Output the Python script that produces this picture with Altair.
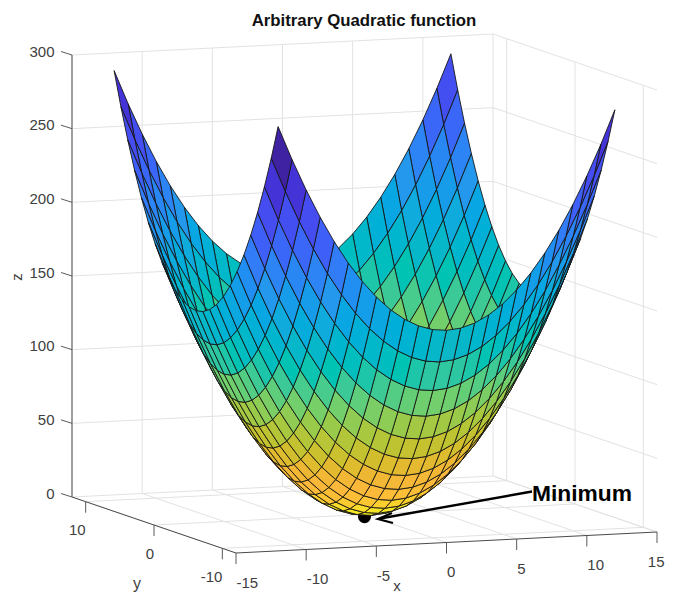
import altair as alt
import pandas as pd

TITLE = "Arbitrary Quadratic function"
X_TICKS = [-15, -10, -5, 0, 5, 10, 15]
Y_TICKS = [-10, 0, 10]
Z_TICKS = [0, 50, 100, 150, 200, 250, 300]
X_RANGE = [-15, 15]
Y_RANGE = [-12, 12]
Z_RANGE = [0, 300]
GRID_AXIS = [-12, -11, -10, -9, -8, -7, -6, -5, -4, -3, -2, -1, 0,
             1, 2, 3, 4, 5, 6, 7, 8, 9, 10, 11, 12]
# surface heights, quarter of the mesh (x and y from -12 to 0); the bowl is mirror-symmetric
Z_QUARTER = [
    [288, 265, 244, 225, 208, 193, 180, 169, 160, 153, 148, 145, 144],
    [265, 242, 221, 202, 185, 170, 157, 146, 137, 130, 125, 122, 121],
    [244, 221, 200, 181, 164, 149, 136, 125, 116, 109, 104, 101, 100],
    [225, 202, 181, 162, 145, 130, 117, 106, 97, 90, 85, 82, 81],
    [208, 185, 164, 145, 128, 113, 100, 89, 80, 73, 68, 65, 64],
    [193, 170, 149, 130, 113, 98, 85, 74, 65, 58, 53, 50, 49],
    [180, 157, 136, 117, 100, 85, 72, 61, 52, 45, 40, 37, 36],
    [169, 146, 125, 106, 89, 74, 61, 50, 41, 34, 29, 26, 25],
    [160, 137, 116, 97, 80, 65, 52, 41, 32, 25, 20, 17, 16],
    [153, 130, 109, 90, 73, 58, 45, 34, 25, 18, 13, 10, 9],
    [148, 125, 104, 85, 68, 53, 40, 29, 20, 13, 8, 5, 4],
    [145, 122, 101, 82, 65, 50, 37, 26, 17, 10, 5, 2, 1],
    [144, 121, 100, 81, 64, 49, 36, 25, 16, 9, 4, 1, 0],
]
COLOR_STOPS = [0, 10, 20, 30, 45, 60, 80, 100, 121, 144, 165, 185, 205, 225, 245, 265, 288]
COLOR_VALUES = ["#f9fb15", "#f6e426", "#fdc532", "#fdb83b", "#eeb733", "#cdbf2c", "#a8c840", "#72cf6c",
                "#30c8a0", "#0cb8c8", "#14aade", "#2398ec", "#3480f6", "#3f60f8", "#454cf0", "#4434d8", "#3f22a2"]
MIN_POINT = [0, 0, -1.5]

half = [r + r[-2::-1] for r in Z_QUARTER]
Z = half + half[-2::-1]

PAGE = 8
W, H = 657, 586


def project(x, y, z):
    """Orthographic view of the axes box."""
    sx = 236 + (x + 15) * 421 / 30 - (y + 12) * 164 / 24
    sy = 553 - (x + 15) * 21 / 30 - (y + 12) * 56 / 24 - z * 442 / 300
    return sx, sy


def depth(x, y, z):
    return -0.36 * x / 30 - 0.93 * y / 24 + 0.134 * z / 300


# ---- surface
cells = []
n = len(GRID_AXIS)
for j in range(n - 1):
    for i in range(n - 1):
        corners = [(i, j), (i + 1, j), (i + 1, j + 1), (i, j + 1), (i, j)]
        pts = [(GRID_AXIS[a], GRID_AXIS[b], Z[b][a]) for a, b in corners]
        d = sum(depth(*p) for p in pts[:4]) / 4
        cells.append((d, Z[j][i], pts))
cells.sort(key=lambda c: c[0])
rows = []
for cid, (_, c, pts) in enumerate(cells):
    for k, p in enumerate(pts):
        sx, sy = project(*p)
        rows.append({"sx": sx, "sy": sy, "cell": cid, "k": k, "c": c})
surface_df = pd.DataFrame(rows)

xs = alt.X("sx:Q", scale=alt.Scale(domain=[PAGE, PAGE + W], nice=False, zero=False), axis=None)
ys = alt.Y("sy:Q", scale=alt.Scale(domain=[PAGE + H, PAGE], nice=False, zero=False), axis=None)


def segs(items):
    out = []
    for sid, (a, b) in enumerate(items):
        for k, p in enumerate((a, b)):
            sx, sy = project(*p)
            out.append({"sx": sx, "sy": sy, "seg": sid, "k": k})
    return pd.DataFrame(out)


def seg_layer(items, color, width):
    return alt.Chart(segs(items)).mark_line(color=color, strokeWidth=width).encode(
        x=xs, y=ys, detail="seg:N", order="k:Q")


x0, x1 = X_RANGE
y0, y1 = Y_RANGE
z0, z1 = Z_RANGE
grid_items = []
for x in X_TICKS:
    grid_items.append(((x, y0, z0), (x, y1, z0)))
    grid_items.append(((x, y1, z0), (x, y1, z1)))
for y in Y_TICKS:
    grid_items.append(((x0, y, z0), (x1, y, z0)))
    grid_items.append(((x1, y, z0), (x1, y, z1)))
for z in Z_TICKS:
    grid_items.append(((x0, y1, z), (x1, y1, z)))
    grid_items.append(((x1, y1, z), (x1, y0, z)))
grid = seg_layer(grid_items, "#e2e2e2", 1)

axis_xy = seg_layer([((x0, y0, z0), (x1, y0, z0)), ((x0, y0, z0), (x0, y1, z0))], "#4a4a4a", 1)
axis_z = seg_layer([((x0, y1, z0), (x0, y1, z1))], "#8a8a8a", 1.6)


def tick_rows(points, dx, dy):
    out = []
    for sid, p in enumerate(points):
        sx, sy = project(*p)
        out.append({"sx": sx, "sy": sy, "seg": sid, "k": 0})
        out.append({"sx": sx + dx, "sy": sy + dy, "seg": sid, "k": 1})
    return pd.DataFrame(out)


def tick_layer(points, dx, dy):
    return alt.Chart(tick_rows(points, dx, dy)).mark_line(color="#5a5a5a", strokeWidth=1).encode(
        x=xs, y=ys, detail="seg:N", order="k:Q")


ticks_x = tick_layer([(x, y0, z0) for x in X_TICKS], 0, 11)
ticks_y = tick_layer([(x0, y, z0) for y in Y_TICKS], 0, 11)
ticks_z = tick_layer([(x0, y1, z) for z in Z_TICKS], -11, -3.5)


def label_layer(points, labels, dx, dy, align):
    recs = []
    for p, t in zip(points, labels):
        sx, sy = project(*p)
        recs.append({"sx": sx + dx, "sy": sy + dy, "t": str(t)})
    return alt.Chart(pd.DataFrame(recs)).mark_text(
        font="Liberation Sans", fontSize=15, color="#404040", align=align, baseline="alphabetic"
    ).encode(x=xs, y=ys, text="t:N")


# the last x label would fall past the page's drawable edge, so it is pulled in to fit
labels_x = label_layer([(x, y0, z0) for x in X_TICKS[:-1]], X_TICKS[:-1], 0.5, 34.5, "left")
labels_x_end = label_layer([(x1, y0, z0)], [X_TICKS[-1]], 7.5, 34.5, "right")
labels_y = label_layer([(x0, y, z0) for y in Y_TICKS], Y_TICKS, 0, 33.5, "right")
labels_z = label_layer([(x0, y1, z) for z in Z_TICKS], Z_TICKS, -17.5, 1.5, "right")

dot_x, dot_y = project(*MIN_POINT)
dot = alt.Chart(pd.DataFrame([{"sx": dot_x, "sy": dot_y}])).mark_point(
    filled=True, color="black", size=170, opacity=1).encode(x=xs, y=ys)

surface = alt.Chart(surface_df).mark_line(
    filled=True, stroke="#141414", strokeWidth=1, strokeOpacity=0.88, strokeJoin="round"
).encode(
    x=xs, y=ys, detail="cell:N", order="k:Q",
    color=alt.Color("c:Q", scale=alt.Scale(domain=COLOR_STOPS, range=COLOR_VALUES), legend=None),
)

arrow_line = alt.Chart(pd.DataFrame([
    {"sx": 532, "sy": 491.5, "k": 0}, {"sx": 380, "sy": 518.5, "k": 1}
])).mark_line(color="black", strokeWidth=2.4).encode(x=xs, y=ys, order="k:Q")
arrow_head = alt.Chart(pd.DataFrame([
    {"sx": 392, "sy": 513, "k": 0}, {"sx": 378, "sy": 519, "k": 1}, {"sx": 393, "sy": 523, "k": 2}
])).mark_line(color="black", strokeWidth=2.2).encode(x=xs, y=ys, order="k:Q")


def text_layer(t, sx, sy, **kw):
    return alt.Chart(pd.DataFrame([{"sx": sx, "sy": sy, "t": t}])).mark_text(
        font="Liberation Sans", baseline="middle", **kw).encode(x=xs, y=ys, text="t:N")


title = text_layer(TITLE, 364, 21, fontSize=16.8, fontWeight="bold", color="#111111", align="center")
minimum = text_layer("Minimum", 532, 493.5, fontSize=22.8, fontWeight="bold", color="black", align="left")
xt = text_layer("x", 397, 585.5, fontSize=15, color="#404040", align="center")
yt = text_layer("y", 137, 584, fontSize=16, color="#404040", align="center")
zt = text_layer("z", 17, 277, fontSize=15, color="#404040", align="center", angle=270)

chart = alt.layer(
    grid, axis_xy, axis_z, ticks_x, ticks_y, ticks_z, labels_x, labels_x_end, labels_y, labels_z,
    dot, surface, arrow_line, arrow_head, title, minimum, xt, yt, zt,
).properties(width=W, height=H, padding=0, autosize=alt.AutoSizeParams(type="none")).configure_view(stroke=None)

chart.save("out.html", embed_options={"renderer": "svg", "actions": False})
